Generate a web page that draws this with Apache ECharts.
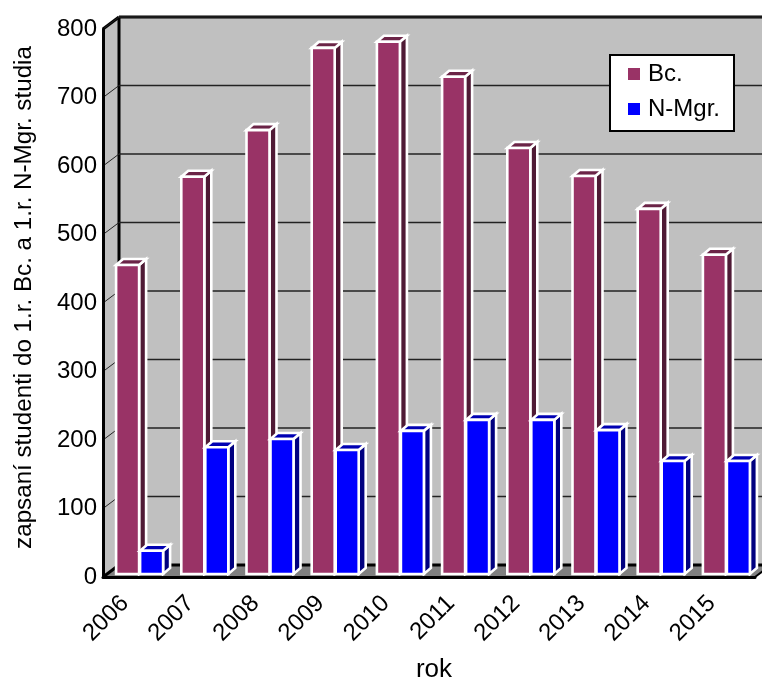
<!DOCTYPE html>
<html>
<head>
<meta charset="utf-8">
<style>html,body{margin:0;padding:0;background:#fff}#c{width:762px;height:679px}</style>
<script src="https://cdn.jsdelivr.net/npm/echarts@6/dist/echarts.min.js"></script>
</head>
<body>
<div id="c"></div>
<script>
// Enrolment in the first year of bachelor and follow-up master study
var years = ['2006','2007','2008','2009','2010','2011','2012','2013','2014','2015'];
var bc = [451,580,648,768,777,726,622,581,533,466];
var nMgr = [34,185,197,181,209,225,225,210,165,165];
var valueTicks = [100,200,300,400,500,600,700,800];

var DEPTH_X = 16, DEPTH_Y = -12;      // chart box depth
var BAR_SHIFT_X = 4, BAR_SHIFT_Y = -3; // bars stand slightly behind the front edge
var BAR_DX = 7, BAR_DY = -6;          // bar depth
var BAR_W = 23;
var OUTLINE = 2.6;

function poly(points, fill, stroke, width) {
  return {
    type: 'polygon',
    shape: { points: points },
    style: { fill: fill, stroke: stroke || null, lineWidth: width || 0, lineJoin: 'miter' }
  };
}
function line(x1, y1, x2, y2, color, width) {
  return {
    type: 'line',
    shape: { x1: x1, y1: y1, x2: x2, y2: y2 },
    style: { stroke: color, lineWidth: width, fill: null }
  };
}

// Back wall, side wall and floor of the box
function renderBox(params, api) {
  var cs = params.coordSys;
  var l = cs.x, r = cs.x + cs.width, t = cs.y, b = cs.y + cs.height;
  var dx = DEPTH_X, dy = DEPTH_Y;
  return {
    type: 'group',
    silent: true,
    children: [
      poly([[l+dx,t+dy],[r+dx,t+dy],[r+dx,b+dy],[l+dx,b+dy]], '#c0c0c0'),
      poly([[l,t],[l+dx,t+dy],[l+dx,b+dy],[l,b]], '#c0c0c0'),
      poly([[l,b],[l+dx,b+dy],[r+dx,b+dy],[r,b]], '#808080'),
      line(l+dx, t+dy, r+dx, t+dy, '#000', 3),
      line(l+dx, t+dy, l+dx, b+dy, '#000', 3),
      line(l+dx, b+dy, r+dx, b+dy, '#000', 3),
      line(l, t, l+dx, t+dy, '#000', 3),
      line(l, b, l+dx, b+dy, '#000', 3),
      line(r, b, r+dx, b+dy, '#000', 2)
    ]
  };
}

// One gridline running along the side wall and across the back wall
function renderGrid(params, api) {
  var cs = params.coordSys;
  var y = api.coord([0, api.value(1)])[1];
  var l = cs.x, r = cs.x + cs.width;
  return {
    type: 'group',
    silent: true,
    children: [
      line(l, y, l + DEPTH_X, y + DEPTH_Y, '#222', 1),
      line(l + DEPTH_X, y + DEPTH_Y, r + DEPTH_X, y + DEPTH_Y, '#222', 1.3)
    ]
  };
}

// A bar drawn as front, top and side faces with a white outline
function barRenderer(side, front, topFace, sideFace) {
  return function (params, api) {
    var p = api.coord([api.value(0), api.value(1)]);
    var base = api.coord([api.value(0), 0]);
    var x0 = p[0] + BAR_SHIFT_X + (side < 0 ? -BAR_W - 0.5 : 0.5);
    var x1 = x0 + BAR_W;
    var yT = p[1] + BAR_SHIFT_Y, yB = base[1] + BAR_SHIFT_Y;
    var dx = BAR_DX, dy = BAR_DY;
    return {
      type: 'group',
      silent: true,
      children: [
        poly([[x1,yT],[x1+dx,yT+dy],[x1+dx,yB+dy],[x1,yB]], sideFace, '#fff', OUTLINE),
        poly([[x0,yT],[x0+dx,yT+dy],[x1+dx,yT+dy],[x1,yT]], topFace, '#fff', OUTLINE),
        poly([[x0,yT],[x1,yT],[x1,yB],[x0,yB]], front, '#fff', OUTLINE)
      ]
    };
  };
}

function rows(values) {
  return values.map(function (v, i) { return [i, v]; });
}

var chart = echarts.init(document.getElementById('c'), null, { renderer: 'canvas' });
var FONT = '"Liberation Sans", Arial, sans-serif';

chart.setOption({
  animation: false,
  backgroundColor: '#fff',
  grid: { left: 103, right: 7, top: 29, bottom: 102, outerBoundsMode: 'none' },
  legend: {
    orient: 'vertical',
    left: 610,
    top: 55,
    data: [{ name: 'Bc.', icon: 'rect' }, { name: 'N-Mgr.', icon: 'rect' }],
    backgroundColor: '#fff',
    borderColor: '#000',
    borderWidth: 2,
    borderRadius: 0,
    padding: [7, 14, 10, 18],
    itemWidth: 12,
    itemHeight: 12,
    itemGap: 11,
    textStyle: { fontFamily: FONT, fontSize: 24, color: '#000', padding: [0, 0, 0, 3] },
    selectedMode: false,
    z: 10
  },
  xAxis: {
    type: 'category',
    data: years,
    z: 5,
    name: 'rok',
    nameLocation: 'middle',
    nameGap: 80,
    nameTextStyle: { fontFamily: FONT, fontSize: 26, color: '#000', padding: [0, 0, 0, 10] },
    axisLine: { show: true, lineStyle: { color: '#000', width: 3 } },
    axisTick: { show: false },
    axisLabel: { rotate: 45, margin: 12, interval: 0, fontFamily: FONT, fontSize: 24, color: '#000', padding: [0, 15, 5, 0] },
    splitLine: { show: false }
  },
  yAxis: {
    type: 'value',
    min: 0,
    max: 800,
    interval: 100,
    z: 5,
    name: 'zapsaní studenti do 1.r. Bc. a 1.r. N-Mgr. studia',
    nameLocation: 'middle',
    nameGap: 67,
    nameTextStyle: { fontFamily: FONT, fontSize: 24.2, color: '#000', padding: [0, 0, 0, 11] },
    axisLine: { show: true, lineStyle: { color: '#000', width: 3 } },
    axisTick: { show: false },
    axisLabel: { margin: 6, fontFamily: FONT, fontSize: 24, color: '#000' },
    splitLine: { show: false }
  },
  series: [
    { type: 'custom', name: 'box', z: 1, renderItem: renderBox, data: [[0, 0]], tooltip: { show: false } },
    { type: 'custom', name: 'grid', z: 1, renderItem: renderGrid,
      data: valueTicks.map(function (v) { return [0, v]; }) },
    { type: 'custom', name: 'Bc.', z: 2, renderItem: barRenderer(-1, '#993366', '#6b2447', '#4f1a35'),
      itemStyle: { color: '#993366' }, data: rows(bc), encode: { x: 0, y: 1 } },
    { type: 'custom', name: 'N-Mgr.', z: 3, renderItem: barRenderer(1, '#0000ff', '#0000b3', '#000080'),
      itemStyle: { color: '#0000ff' }, data: rows(nMgr), encode: { x: 0, y: 1 } }
  ]
});
</script>
</body>
</html>
